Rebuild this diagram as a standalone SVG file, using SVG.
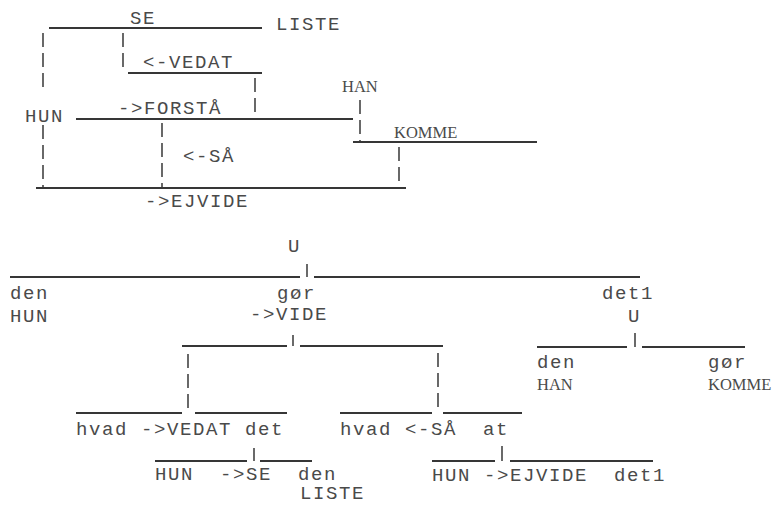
<svg xmlns="http://www.w3.org/2000/svg" width="773" height="505" viewBox="0 0 773 505">
<style>
text{font-family:"Liberation Mono","Courier New",monospace;font-size:19px;letter-spacing:1.6px;fill:#4a4a4a}
text.s{font-family:"Liberation Serif","Times New Roman",serif;font-size:16.5px;letter-spacing:0}
.ln{stroke:#363636;stroke-width:2;fill:none}
.dv{stroke:#444;stroke-width:1.6;fill:none;stroke-dasharray:14 6}
.tk{stroke:#444;stroke-width:1.6;fill:none}
</style>
<rect width="773" height="505" fill="#fff"/>
<g id="connectors">
<!-- upper diagram -->
<line class="ln" x1="49" y1="28" x2="262" y2="28"/>
<line class="ln" x1="128" y1="73" x2="262" y2="73"/>
<line class="ln" x1="76" y1="119" x2="353" y2="119"/>
<line class="ln" x1="353" y1="142" x2="537" y2="142"/>
<line class="ln" x1="36" y1="188" x2="406" y2="188"/>
<line class="dv" x1="43" y1="33" x2="43" y2="93"/>
<line class="dv" x1="43" y1="125" x2="43" y2="187"/>
<line class="dv" x1="123" y1="33" x2="123" y2="72"/>
<line class="dv" x1="255" y1="78" x2="255" y2="117"/>
<line class="dv" x1="360" y1="100" x2="360" y2="141"/>
<line class="dv" x1="399" y1="147" x2="399" y2="187"/>
<line class="dv" x1="162" y1="123" x2="162" y2="187"/>
<!-- lower tree -->
<line class="tk" x1="307" y1="264" x2="307" y2="277"/>
<line class="ln" x1="10" y1="277" x2="300" y2="277"/>
<line class="ln" x1="314" y1="277" x2="640" y2="277"/>
<line class="tk" x1="293" y1="335" x2="293" y2="346"/>
<line class="ln" x1="182" y1="346" x2="287" y2="346"/>
<line class="ln" x1="300" y1="346" x2="443" y2="346"/>
<line class="tk" x1="635" y1="333" x2="635" y2="347"/>
<line class="ln" x1="537" y1="347" x2="627" y2="347"/>
<line class="ln" x1="642" y1="347" x2="745" y2="347"/>
<line class="dv" x1="188" y1="354" x2="188" y2="412"/>
<line class="dv" x1="438" y1="353" x2="438" y2="412"/>
<line class="ln" x1="76" y1="413" x2="182" y2="413"/>
<line class="ln" x1="195" y1="413" x2="287" y2="413"/>
<line class="ln" x1="340" y1="413" x2="432" y2="413"/>
<line class="ln" x1="443" y1="413" x2="522" y2="413"/>
<line class="tk" x1="254" y1="448" x2="254" y2="461"/>
<line class="ln" x1="155" y1="461" x2="247" y2="461"/>
<line class="ln" x1="260" y1="461" x2="312" y2="461"/>
<line class="tk" x1="502" y1="446" x2="502" y2="461"/>
<line class="ln" x1="432" y1="461" x2="495" y2="461"/>
<line class="ln" x1="510" y1="461" x2="653" y2="461"/>
</g>
<g id="upper-nodes">
<g id="n-se"><text x="130" y="24">SE</text></g>
<g id="n-liste"><text x="276" y="30">LISTE</text></g>
<g id="n-vedat"><text x="143" y="68">&lt;-VEDAT</text></g>
<g id="n-forsta"><text x="118" y="114">-&gt;FORSTÅ</text></g>
<g id="n-hun"><text x="25" y="122">HUN</text></g>
<g id="n-han"><text class="s" x="342" y="92">HAN</text></g>
<g id="n-komme"><text class="s" x="394" y="138">KOMME</text></g>
<g id="n-sa"><text x="183" y="162">&lt;-SÅ</text></g>
<g id="n-ejvide"><text x="145" y="207">-&gt;EJVIDE</text></g>
</g>
<g id="tree-nodes">
<g id="t-u"><text x="288" y="252">U</text></g>
<g id="t-den-hun"><text x="10" y="299">den</text><text x="10" y="322">HUN</text></g>
<g id="t-gor-vide"><text x="277" y="299">gør</text><text x="250" y="320">-&gt;VIDE</text></g>
<g id="t-det1-u"><text x="602" y="299">det1</text><text x="628" y="322">U</text></g>
<g id="t-den-han"><text x="537" y="368">den</text><text class="s" x="537" y="390">HAN</text></g>
<g id="t-gor-komme"><text x="708" y="368">gør</text><text class="s" x="708" y="390">KOMME</text></g>
<g id="t-vedat"><text x="76" y="435">hvad</text><text x="141" y="435">-&gt;VEDAT</text><text x="245" y="435">det</text></g>
<g id="t-se"><text x="155" y="480">HUN</text><text x="220" y="480">-&gt;SE</text><text><tspan x="298" y="480">den</tspan><tspan x="300" y="499">LISTE</tspan></text></g>
<g id="t-sa"><text x="340" y="435">hvad</text><text x="405" y="435">&lt;-SÅ</text><text x="483" y="435">at</text></g>
<g id="t-ejvide"><text x="432" y="481">HUN</text><text x="484" y="481">-&gt;EJVIDE</text><text x="614" y="481">det1</text></g>
</g>
</svg>
